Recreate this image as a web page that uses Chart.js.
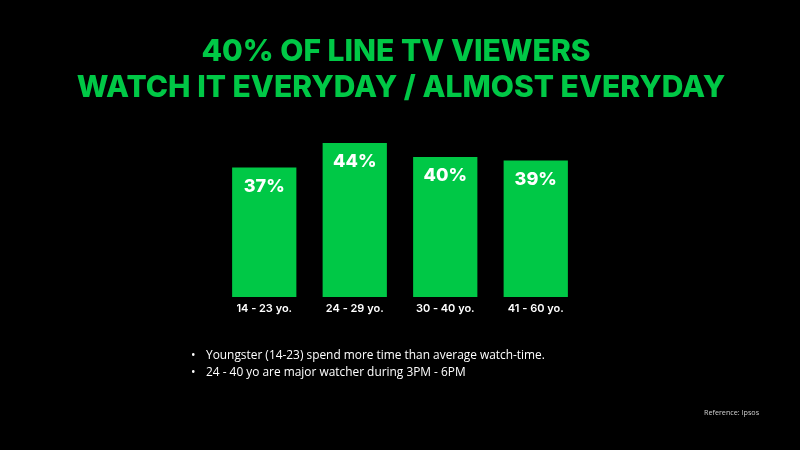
<!DOCTYPE html>
<html>
<head>
<meta charset="utf-8">
<script src="https://cdn.jsdelivr.net/npm/chart.js@4.4.0/dist/chart.umd.min.js"></script>
<style>
  html, body { margin: 0; padding: 0; background: #000; }
  #wrap { position: relative; width: 800px; height: 450px; background: #000; overflow: hidden; }
  canvas { position: absolute; left: 0; top: 0; }
  .notes { position: absolute; left: 191px; top: 346px; margin: 0; padding: 0; list-style: none;
           font-family: "Open Sans", sans-serif; font-size: 11.9px; color: #fff; line-height: 17px; }
  .notes li { position: relative; padding-left: 15px; }
  .notes li::before { content: "\2022"; position: absolute; left: 0; top: 0; }
  .ref { position: absolute; left: 704px; top: 407px; font-family: "Open Sans", sans-serif;
         font-size: 7.2px; color: #d0d0d0; }
</style>
</head>
<body>
<div id="wrap">
  <canvas id="chart" width="800" height="450"></canvas>
  <ul class="notes">
    <li>Youngster (14-23) spend more time than average watch-time.</li>
    <li>24 - 40 yo are major watcher during 3PM - 6PM</li>
  </ul>
  <div class="ref">Reference: Ipsos</div>
</div>
<script>
const titleLines = ['40% OF LINE TV VIEWERS', 'WATCH IT EVERYDAY / ALMOST EVERYDAY']
const ageGroups = ['14 - 23 yo.', '24 - 29 yo.', '30 - 40 yo.', '41 - 60 yo.']
const viewers = [37, 44, 40, 39]

const GREEN = '#00c846'

// titulo em duas linhas, centralizado no topo
const titlePlugin = {
    id: 'bigTitle',
    afterDraw(chart) {
        const ctx = chart.ctx
        ctx.save()
        ctx.fillStyle = GREEN
        ctx.font = '800 30px Inter, sans-serif'
        ctx.textAlign = 'center'
        ctx.textBaseline = 'middle'
        ctx.fillText(titleLines[0], 396, 52)
        ctx.fillText(titleLines[1], 401, 88)
        ctx.restore()
    }
}

// rotulos de valor dentro das barras
const valuePlugin = {
    id: 'barValues',
    afterDatasetsDraw(chart) {
        const ctx = chart.ctx
        const meta = chart.getDatasetMeta(0)
        ctx.save()
        ctx.fillStyle = '#ffffff'
        ctx.font = '800 18px Inter, sans-serif'
        ctx.textAlign = 'center'
        ctx.textBaseline = 'middle'
        meta.data.forEach((bar, i) => {
            ctx.fillText(viewers[i] + '%', bar.x, bar.y + 19)
        })
        ctx.restore()
    }
}

new Chart(document.getElementById('chart'), {
    type: 'bar',
    data: {
        labels: ageGroups,
        datasets: [{
            label: 'Viewers',
            data: viewers,
            backgroundColor: GREEN,
            borderWidth: 0,
            barPercentage: 0.71,
            categoryPercentage: 1
        }]
    },
    options: {
        responsive: false,
        animation: false,
        layout: { padding: { top: 122, left: 219, right: 219, bottom: 123 } },
        scales: {
            x: {
                grid: { display: false, drawTicks: false },
                border: { display: false },
                ticks: {
                    color: '#ffffff',
                    padding: 5,
                    font: { family: 'Inter, sans-serif', size: 11, weight: '600' }
                },
                afterFit: scale => { scale.height = 30 }
            },
            y: {
                display: false,
                min: 0,
                max: 50
            }
        },
        plugins: {
            legend: { display: false },
            tooltip: { enabled: false }
        }
    },
    plugins: [titlePlugin, valuePlugin]
})
</script>
</body>
</html>
